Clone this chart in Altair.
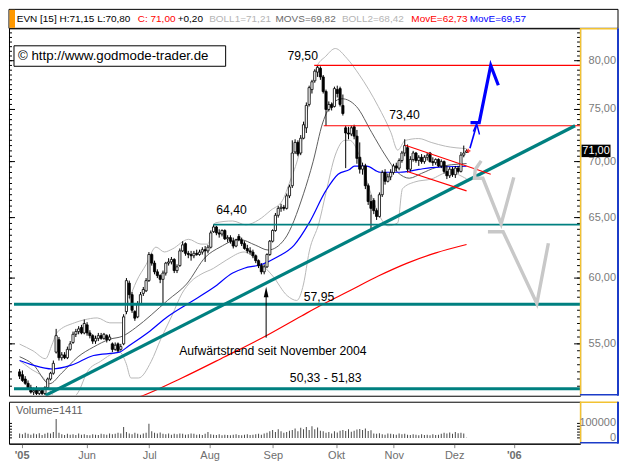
import json
import altair as alt
import pandas as pd

# ---------------- data (trading-day index 0..159) ----------------
open_ = [
    53.0, 52.8, 52.5, 52.2, 51.9, 51.6, 51.8, 51.5, 51.7, 51.5,
    51.9, 52.5, 52.9, 54.4, 55.3, 54.0, 54.2, 54.0, 54.6, 55.1,
    55.7, 55.9, 56.2, 55.8, 56.4, 55.8, 55.6, 55.2, 55.4, 55.6,
    55.4, 55.6, 55.3, 55.0, 54.6, 55.0, 54.6, 55.0, 57.4, 59.6,
    58.7, 57.4, 57.0, 58.0, 58.8, 59.0, 59.8, 61.9, 61.2, 60.5,
    60.2, 59.9, 60.4, 61.2, 61.3, 61.5, 60.6, 61.0, 62.2, 62.8,
    62.0, 61.9, 61.8, 62.0, 61.9, 62.1, 62.3, 62.2, 62.5, 63.8,
    64.2, 63.7, 63.6, 63.9, 63.2, 63.3, 63.0, 62.6, 63.4, 63.1,
    62.8, 62.4, 62.2, 62.1, 61.8, 61.4, 61.0, 60.5, 60.9, 61.9,
    63.0, 63.9, 65.2, 65.8, 65.9, 65.8, 66.9, 67.8, 70.9, 71.8,
    70.8, 72.2, 73.2, 75.5, 77.0, 77.9, 78.8, 79.2, 78.3, 76.8,
    75.0, 75.5, 75.3, 77.0, 77.1, 75.4, 73.2, 72.7, 72.6, 73.3,
    72.4, 70.4, 69.3, 69.6, 67.8, 66.4, 66.5, 65.6, 65.1, 67.0,
    69.0, 68.2, 68.6, 69.0, 69.6, 69.4, 70.1, 70.8, 71.3, 69.3,
    70.2, 70.8, 70.1, 70.4, 70.0, 70.4, 70.8, 70.0, 69.9, 70.2,
    69.6, 70.0, 69.1, 68.7, 69.3, 68.8, 69.4, 69.1, 70.6, 70.85,
]
high = [
    53.2, 53.1, 52.7, 52.4, 52.1, 51.9, 52.0, 51.8, 51.8, 52.0,
    52.6, 53.0, 53.8, 56.1, 55.5, 54.4, 54.4, 54.8, 55.2, 55.9,
    56.1, 56.3, 56.4, 56.8, 56.6, 56.0, 55.7, 55.6, 55.8, 55.8,
    55.8, 55.7, 55.7, 55.1, 55.1, 55.1, 55.0, 57.2, 60.0, 59.8,
    58.9, 57.5, 58.2, 58.9, 59.3, 60.0, 62.1, 62.0, 61.4, 60.7,
    60.3, 60.6, 61.3, 61.6, 61.7, 61.6, 61.1, 62.4, 63.0, 62.9,
    62.2, 62.2, 62.2, 62.3, 62.3, 62.5, 62.6, 62.7, 63.9, 64.4,
    64.3, 64.0, 64.0, 64.0, 63.5, 63.5, 63.3, 63.2, 63.6, 63.3,
    63.0, 62.7, 62.5, 62.3, 61.9, 61.5, 61.2, 61.1, 62.0, 63.1,
    64.0, 65.4, 66.0, 66.2, 66.1, 67.1, 67.9, 72.0, 72.1, 72.0,
    72.5, 73.8, 75.7, 77.4, 78.0, 79.1, 79.5, 79.4, 78.5, 77.0,
    75.8, 75.7, 77.3, 77.4, 77.3, 76.5, 73.4, 73.3, 73.4, 73.5,
    73.0, 71.8, 69.9, 69.8, 68.0, 67.0, 66.7, 65.8, 67.2, 69.2,
    69.3, 68.9, 69.3, 69.8, 69.9, 70.3, 71.0, 72.1, 71.6, 70.5,
    71.0, 70.9, 70.6, 70.7, 70.6, 70.8, 70.9, 70.4, 70.3, 70.3,
    70.2, 70.1, 69.6, 69.5, 69.5, 69.6, 69.6, 70.9, 71.5, 71.15,
]
low = [
    52.5, 52.3, 52.1, 51.8, 51.5, 51.4, 51.4, 51.4, 51.4, 51.4,
    51.8, 52.4, 52.8, 54.3, 53.8, 53.8, 53.9, 53.9, 54.5, 55.0,
    55.5, 55.7, 55.7, 55.7, 55.6, 55.4, 55.0, 55.0, 55.2, 55.3,
    55.3, 55.1, 55.2, 54.4, 54.5, 54.4, 54.5, 54.9, 57.2, 58.4,
    57.3, 56.7, 56.9, 57.9, 58.6, 58.9, 59.7, 61.0, 60.3, 60.0,
    59.6, 58.0, 60.2, 61.0, 61.1, 60.4, 60.4, 60.9, 62.1, 61.8,
    61.6, 61.4, 61.6, 61.8, 61.8, 61.9, 61.3, 62.0, 62.4, 63.7,
    63.5, 63.3, 63.4, 63.1, 62.9, 62.8, 62.4, 62.5, 63.0, 62.6,
    62.3, 62.0, 61.9, 61.6, 61.2, 60.8, 60.3, 60.3, 60.8, 61.8,
    62.9, 63.8, 65.0, 65.5, 65.6, 65.7, 66.7, 67.6, 70.7, 70.5,
    70.6, 72.1, 72.7, 75.3, 76.6, 77.7, 78.3, 78.0, 76.6, 73.4,
    74.8, 74.9, 75.2, 76.2, 75.3, 74.4, 69.4, 72.1, 72.4, 72.1,
    69.8, 68.9, 68.8, 67.5, 66.1, 64.0, 65.3, 64.8, 65.0, 66.8,
    67.9, 68.1, 68.3, 68.8, 69.1, 69.2, 69.9, 70.5, 69.0, 69.1,
    70.0, 69.9, 69.6, 69.8, 69.8, 70.1, 69.9, 69.6, 69.7, 69.5,
    69.4, 68.9, 68.4, 68.5, 68.6, 68.5, 68.9, 69.0, 70.4, 70.8,
]
close = [
    52.7, 52.4, 52.2, 51.9, 51.6, 51.7, 51.5, 51.7, 51.5, 51.9,
    52.5, 52.9, 53.6, 55.6, 54.0, 54.2, 54.0, 54.6, 55.0, 55.7,
    55.9, 56.1, 55.8, 56.5, 55.8, 55.6, 55.2, 55.4, 55.6, 55.4,
    55.7, 55.3, 55.5, 54.6, 54.9, 54.5, 54.8, 57.0, 59.8, 58.7,
    57.5, 56.9, 58.0, 58.7, 59.1, 59.8, 61.9, 61.2, 60.5, 60.2,
    59.9, 60.4, 61.2, 61.3, 61.5, 60.6, 60.9, 62.2, 62.7, 62.0,
    61.9, 61.8, 62.0, 61.9, 62.1, 62.3, 62.2, 62.5, 63.7, 64.2,
    63.7, 63.6, 63.9, 63.2, 63.3, 63.0, 62.6, 63.1, 63.1, 62.8,
    62.4, 62.2, 62.1, 61.8, 61.4, 61.0, 60.5, 60.9, 61.9, 63.0,
    63.9, 65.2, 65.8, 65.9, 65.8, 66.9, 67.7, 70.8, 71.8, 70.7,
    72.2, 73.5, 75.4, 77.2, 77.8, 78.9, 79.3, 78.3, 76.8, 75.0,
    75.5, 75.2, 77.1, 76.6, 75.5, 74.6, 72.7, 72.6, 73.2, 72.4,
    70.3, 69.3, 69.6, 67.8, 66.4, 65.8, 65.6, 65.1, 67.0, 69.0,
    68.2, 68.6, 69.0, 69.6, 69.4, 70.1, 70.8, 71.5, 69.3, 70.2,
    70.8, 70.1, 70.4, 70.0, 70.4, 70.6, 70.0, 69.9, 70.2, 69.6,
    70.0, 69.1, 68.7, 69.3, 68.8, 69.4, 69.1, 70.6, 70.8, 71.0,
]
volume = [
    30000, 25000, 35000, 28000, 22000, 30000, 25000, 32000, 20000, 28000,
    35000, 30000, 40000, 130000, 35000, 25000, 20000, 28000, 22000, 25000,
    20000, 30000, 22000, 25000, 20000, 18000, 25000, 22000, 20000, 28000,
    25000, 22000, 30000, 25000, 28000, 35000, 30000, 75000, 40000, 30000,
    25000, 35000, 28000, 22000, 30000, 35000, 98000, 45000, 35000, 30000,
    38000, 28000, 25000, 30000, 22000, 28000, 25000, 30000, 28000, 22000,
    25000, 30000, 28000, 22000, 25000, 20000, 28000, 40000, 25000, 22000,
    20000, 25000, 18000, 22000, 20000, 18000, 22000, 25000, 20000, 18000,
    22000, 25000, 20000, 22000, 25000, 28000, 22000, 30000, 35000, 45000,
    55000, 40000, 60000, 45000, 35000, 40000, 50000, 55000, 65000, 45000,
    70000, 60000, 75000, 55000, 80000, 60000, 72000, 50000, 45000, 35000,
    40000, 30000, 45000, 38000, 50000, 55000, 48000, 60000, 42000, 50000,
    58000, 62000, 55000, 65000, 48000, 52000, 30000, 28000, 32000, 25000,
    22000, 30000, 28000, 25000, 22000, 30000, 25000, 28000, 22000, 20000,
    25000, 22000, 18000, 25000, 20000, 22000, 18000, 25000, 20000, 22000,
    28000, 35000, 30000, 38000, 28000, 40000, 32000, 36000, 30000, 1411,
]

# indicator lines (index, value)
boll_up_i = [0, 4.8, 9.2, 11.6, 13.3, 19.5, 22.9, 27.6, 32.1, 36.5, 38.9, 41.6, 45, 48.5, 51.5, 54.3,
             60.1, 64.5, 66.9, 69.6, 75.8, 80.5, 85, 89.4, 93.5, 96.2, 99.3, 102, 103.8, 105.5, 108.9,
             112.3, 116.4, 120.8, 127.6, 132.1, 134.5, 137.2, 142, 146.4, 151.5, 159]
boll_up_v = [54.98, 54.49, 53.93, 54.98, 55.83, 56.55, 56.77, 56.92, 56.55, 56.55, 58.25, 59.76, 61.08,
             62.51, 62.11, 62.35, 63.16, 62.76, 62.76, 64.55, 64.71, 64.38, 64.80, 65.64, 66.49, 68.22,
             70.61, 74.32, 76.94, 79.24, 80.47, 81.30, 80.26, 78.54, 75.29, 72.74, 71.07, 71.99, 72.17,
             71.80, 71.44, 71.21]
boll_lo_i = [0, 3.75, 9.2, 11.6, 15, 18.4, 20.8, 24.2, 28.7, 35.5, 37.9, 39.6, 42.3, 46.8, 50.2, 54.3,
             57.7, 61.1, 64.5, 68.9, 73.7, 79.9, 85, 90.1, 95.2, 98.6, 101, 103, 106.5, 108.9, 112.3,
             115.7, 117.4, 120.8, 124.2, 127.6, 131, 134.5, 136.2, 140.6, 146.4, 152.6, 159]
boll_lo_v = [53.79, 53.24, 52.37, 51.44, 50.91, 51.11, 51.57, 53.04, 53.73, 54.42, 53.59, 52.57, 52.57,
             53.73, 55.34, 57.14, 58.77, 59.76, 60.30, 60.77, 61.47, 62.11, 61.32, 60.15, 58.62, 58.25,
             59.53, 62.11, 64.55, 67.08, 70.61, 72.0, 72.0, 70.62, 67.70, 65.38, 64.30, 64.55, 67.53,
             68.14, 68.40, 69.02, 68.42]
movs_i = [0, 4.8, 10.6, 15, 20.8, 26.3, 32.1, 36.5, 41.3, 46.8, 52.6, 59.4, 66.2, 71.3, 78.2, 84, 88.4,
          94.2, 101, 104.4, 107.8, 111.3, 114.7, 119.8, 125.3, 130, 134.5, 138.6, 143, 148.1, 159]
movs_v = [54.07, 53.52, 52.17, 52.92, 54.07, 54.77, 55.34, 55.55, 56.19, 57.14, 58.25, 59.53, 61.71,
          62.51, 63.15, 62.66, 62.27, 63.15, 67.08, 69.99, 73.67, 75.59, 76.07, 75.30, 72.73, 70.62,
          69.01, 68.48, 68.92, 69.45, 69.82]
ema_blue_i = [0, 4.8, 11.6, 18.4, 26.3, 35.5, 38.9, 45.7, 52.6, 60, 69, 75.8, 79.9, 86, 91.8, 97.6, 103,
              108.9, 113.3, 117.4, 119.1, 123.5, 128.3, 135.2, 142, 146.4, 159]
ema_blue_v = [53.8, 53.47, 53.2, 53.47, 54.16, 54.4, 54.86, 55.83, 57.01, 58.02, 59.25, 60.4, 60.79,
              61.08, 61.71, 62.66, 64.55, 67.34, 68.84, 69.28, 69.58, 69.58, 69.02, 69.02, 69.28, 69.45,
              69.57]
ema_red_i = [40, 44, 57.7, 73, 86.7, 100.3, 107.2, 117.4, 127.6, 137.9, 148.1, 159]
ema_red_v = [51.1, 51.37, 52.57, 54.07, 55.48, 57.07, 57.88, 59.0, 60.16, 61.2, 62.04, 62.73]

# drawn analysis
level_values = [79.50, 73.40, 64.40, 57.95, 51.83]
level_start = [104.8, 108.2, 68.9, -2.0, -2.0]
trend_i = [9.2, 197.6]
trend_v = [51.37, 73.40]
chan_up_i = [137.2, 167.6]
chan_up_v = [71.53, 68.84]
chan_lo_i = [137.9, 159.0]
chan_lo_v = [69.08, 67.34]
bull_i = [160.4, 163.5, 167.6, 170.3]
bull_v = [73.7, 73.7, 79.5, 77.44]
bull_thin_i = [160.2, 162.6]
bull_thin_v = [71.25, 73.5]
bull_head_i = [161.4, 162.6, 163.6]
bull_head_v = [72.84, 73.6, 72.56]
bear1_i = [164.2, 162.1, 161.8, 164.8, 171.3, 175.8]
bear1_v = [70.07, 69.28, 68.47, 68.47, 64.46, 68.55]
bear2_i = [166.6, 172.0, 184.0, 188.1]
bear2_v = [63.80, 63.80, 58.02, 62.83]

ann_text = ["79,50", "73,40", "64,40", "57,95", "Aufwärtstrend seit November 2004", "50,33 - 51,83"]
ann_i = [100.7, 136.9, 75.4, 106.5, 90.1, 108.9]
ann_v = [80.55, 74.5, 65.64, 58.55, 54.49, 52.57]
arrow_i = [87.7, 87.7]
arrow_v = [55.45, 58.9]

month_labels = ["'05", "Jun", "Jul", "Aug", "Sep", "Okt", "Nov", "Dez", "'06"]
month_pos = [0.7, 23.8, 46.1, 67.6, 90.1, 112.6, 133.1, 154.6, 175.8]
price_labels = [55, 60, 65, 70, 75, 80]
minor_ticks = [k / 2 for k in range(104, 167)]
vol_labels = [0, 100000]
vol_ticks = [0, 20000, 40000, 60000, 80000, 100000]

header_texts = ["EVN [15] H:71,15 L:70,80", "C: 71,00", "+0,20", "BOLL1=71,21", "MOVS=69,82",
                "BOLL2=68,42", "MovE=62,73", "MovE=69,57"]

# ---------------- layout / style ----------------
W, H, VH = 572, 368, 42
XMIN, XMAX = -2.0, 197.6
FONT = "Liberation Sans"
TEAL, RED, BLUE = "#008080", "#ff0000", "#0000ff"
YELLOW, FBLUE = "#f2c232", "#1c3cc8"
LABEL_GRAY = "#7a7a7a"
header_colors = ["black", RED, "black", "#b4b4b4", "#6a6a6a", "#b4b4b4", RED, BLUE]
header_x = [7.8, 129, 169, 200.5, 267, 333.5, 403, 461.5]

xs = alt.Scale(domain=[XMIN, XMAX], nice=False, zero=False)
ys = alt.Scale(type="log", domain=[51.35, 83.5], nice=False)


def X(f="i"):
    return alt.X(f"{f}:Q", scale=xs, axis=None)


def Y(f="v"):
    return alt.Y(f"{f}:Q", scale=ys, axis=None)


def one():
    return alt.Chart(pd.DataFrame({"a": [0]}))


def line(ii, vv, color, width, interp="linear"):
    df = pd.DataFrame({"i": ii, "v": vv, "o": list(range(len(ii)))})
    return alt.Chart(df).mark_line(color=color, strokeWidth=width, clip=True,
                                   interpolate=interp).encode(x=X(), y=Y(), order="o:Q")


n = len(close)
cdf = pd.DataFrame({"i": list(range(n)), "o": open_, "h": high, "l": low, "c": close})
cdf["up"] = cdf["c"] >= cdf["o"]

wick = alt.Chart(cdf).mark_rule(color="black", strokeWidth=1).encode(
    x=X(), y=Y("l"), y2="h:Q")
body = alt.Chart(cdf).mark_bar(size=2.2, stroke="black", strokeWidth=0.8).encode(
    x=X(), y=Y("o"), y2="c:Q",
    fill=alt.condition("datum.up", alt.value("white"), alt.value("black")))

bands = [line(boll_up_i, boll_up_v, "#b8b8b8", 1, "monotone"),
         line(boll_lo_i, boll_lo_v, "#b8b8b8", 1, "monotone"),
         line(movs_i, movs_v, "#5e5e5e", 1, "monotone"),
         line(ema_red_i, ema_red_v, RED, 1.2, "monotone"),
         line(ema_blue_i, ema_blue_v, BLUE, 1.2, "monotone")]

lv = pd.DataFrame({"v": level_values, "x0": level_start})
lv_red = alt.Chart(lv.iloc[0:2]).mark_rule(color=RED, strokeWidth=1.2).encode(
    x=X("x0"), x2=alt.value(W), y=Y())
lv_teal = alt.Chart(lv.iloc[2:3]).mark_rule(color=TEAL, strokeWidth=1.6).encode(
    x=X("x0"), x2=alt.value(W), y=Y())
lv_thick = alt.Chart(lv.iloc[3:5]).mark_rule(color=TEAL, strokeWidth=3).encode(
    x=X("x0"), x2=alt.value(W), y=Y())

trend = line(trend_i, trend_v, TEAL, 3.2)
chan = [line(chan_up_i, chan_up_v, RED, 1.1), line(chan_lo_i, chan_lo_v, RED, 1.1)]
bull = [line(bull_i, bull_v, BLUE, 3.2), line(bull_thin_i, bull_thin_v, BLUE, 1.6),
        line(bull_head_i, bull_head_v, BLUE, 1.4)]
bear = [line(bear1_i, bear1_v, "#c8c8c8", 3.4), line(bear2_i, bear2_v, "#c8c8c8", 3.4)]

last_mark = alt.Chart(pd.DataFrame({"i": [n - 0.4], "v": [close[-1]]})).mark_point(
    shape="cross", size=18, filled=True, color=RED).encode(x=X(), y=Y())

ann = alt.Chart(pd.DataFrame({"i": ann_i, "v": ann_v, "t": ann_text})).mark_text(
    font=FONT, fontSize=12.2, color="black").encode(x=X(), y=Y(), text="t:N")
arrow = line(arrow_i, arrow_v, "black", 1)
arrow_head = alt.Chart(pd.DataFrame({"i": [arrow_i[1]], "v": [arrow_v[1]]})).mark_point(
    shape="M0,-1L0.45,1L-0.45,1Z", size=110, filled=True, color="black", opacity=1).encode(
    x=X(), y=Y())

# price-scale ticks on both inner edges and price labels at the right
tk_min = pd.DataFrame({"v": minor_ticks})
tk_maj = pd.DataFrame({"v": price_labels,
                       "t": [f"{p:.2f}".replace(".", ",") for p in price_labels]})
ticks = [
    alt.Chart(tk_min).mark_rule(color="black").encode(x=alt.value(W - 3), x2=alt.value(W), y=Y()),
    alt.Chart(tk_maj).mark_rule(color="black").encode(x=alt.value(W - 6), x2=alt.value(W), y=Y()),
    alt.Chart(tk_min).mark_rule(color="black").encode(x=alt.value(0), x2=alt.value(3), y=Y()),
    alt.Chart(tk_maj).mark_rule(color="black").encode(x=alt.value(0), x2=alt.value(6), y=Y()),
]
price_txt = alt.Chart(tk_maj).mark_text(font=FONT, fontSize=11, color=LABEL_GRAY, align="right").encode(
    x=alt.value(W + 36), y=Y(), text="t:N")

last_box = alt.Chart(pd.DataFrame({"v": [close[-1]]})).mark_point(
    shape="M-1,-0.43L1,-0.43L1,0.43L-1,0.43Z", size=841, filled=True, color="black",
    opacity=1).encode(x=alt.value(W + 16), y=Y())
last_txt = alt.Chart(pd.DataFrame({"v": [close[-1]],
                                   "t": [f"{close[-1]:.2f}".replace(".", ",")]})).mark_text(
    font=FONT, fontSize=11, color="white").encode(x=alt.value(W + 16), y=Y(), text="t:N")

# copyright box
copy_box = one().mark_rect(fill="white", stroke="black", strokeWidth=1).encode(
    x=alt.value(5), x2=alt.value(217), y=alt.value(17.5), y2=alt.value(38))
copy_txt = one().mark_text(font=FONT, fontSize=13.3, align="left", color="black").encode(
    x=alt.value(9), y=alt.value(28), text=alt.value("©  http://www.godmode-trader.de"))

# header line
head_box = one().mark_rect(fill="white", stroke="black", strokeWidth=1).encode(
    x=alt.value(0), x2=alt.value(W + 38), y=alt.value(-19), y2=alt.value(0))
head_orange = one().mark_rect(fill="#ff9900").encode(
    x=alt.value(0.5), x2=alt.value(6), y=alt.value(-18.5), y2=alt.value(-0.5))
head_txt = [one().mark_text(font=FONT, fontSize=10, align="left", color=c).encode(
    x=alt.value(px), y=alt.value(-9.5), text=alt.value(t))
    for t, c, px in zip(header_texts, header_colors, header_x)]


def side_frame(h):
    return [
        one().mark_rule(color=YELLOW, strokeWidth=1.5).encode(
            x=alt.value(W), x2=alt.value(W + 38), y=alt.value(0.5)),
        one().mark_rule(color=YELLOW, strokeWidth=1.5).encode(
            x=alt.value(W + 0.5), y=alt.value(0), y2=alt.value(h)),
        one().mark_rule(color=FBLUE, strokeWidth=2).encode(
            x=alt.value(W + 38), y=alt.value(0), y2=alt.value(h)),
        one().mark_rule(color=FBLUE, strokeWidth=1.5).encode(
            x=alt.value(W), x2=alt.value(W + 38), y=alt.value(h - 1)),
    ]


main = alt.layer(
    head_box, head_orange, *head_txt,
    *bands, wick, body, *ticks,
    lv_red, lv_teal, lv_thick, trend, *chan, *bear, *bull, last_mark,
    ann, arrow, arrow_head, copy_box, copy_txt,
    *side_frame(H), price_txt, last_box, last_txt,
).properties(width=W, height=H)

# ---------------- volume panel ----------------
label_expr = " : ".join(f"datum.value == {p} ? {json.dumps(l)}" for p, l in zip(month_pos, month_labels)) + " : ''"
xaxis = alt.Axis(values=month_pos, labelExpr=label_expr, grid=False, title=None,
                 labelColor="#6e6e6e", labelFontSize=11, labelFont=FONT, tickColor="#8a8a8a",
                 tickSize=4, domainColor="black", labelPadding=2,
                 labelFontWeight={"condition": {"test": "datum.value < 1 || datum.value > 170",
                                                "value": "bold"}, "value": "normal"})
vs = alt.Scale(domain=[-40000, 250000], nice=False, zero=False)
vdf = pd.DataFrame({"i": list(range(n)), "vol": volume})
vbars = alt.Chart(vdf).mark_bar(size=1, color="#4a4a4a").encode(
    x=alt.X("i:Q", scale=xs, axis=xaxis), y=alt.Y("vol:Q", scale=vs, axis=None), y2=alt.datum(0))
vt_df = pd.DataFrame({"v": vol_ticks})
vticks = [
    alt.Chart(vt_df).mark_rule(color="black").encode(
        x=alt.value(0), x2=alt.value(3), y=alt.Y("v:Q", scale=vs, axis=None)),
    alt.Chart(vt_df).mark_rule(color="black").encode(
        x=alt.value(W - 3), x2=alt.value(W), y=alt.Y("v:Q", scale=vs, axis=None)),
]
vl_df = pd.DataFrame({"v": vol_labels, "t": [str(v) for v in vol_labels]})
vlabels = alt.Chart(vl_df).mark_text(font=FONT, fontSize=11, color=LABEL_GRAY, align="right").encode(
    x=alt.value(W + 36), y=alt.Y("v:Q", scale=vs, axis=None), text="t:N")
vtxt = one().mark_text(font=FONT, fontSize=11, align="left", color="#606060").encode(
    x=alt.value(7), y=alt.value(9), text=alt.value(f"Volume={volume[-1]}"))
vol = alt.layer(vbars, *vticks, vtxt, *side_frame(VH), vlabels).properties(width=W, height=VH)

chart = alt.vconcat(main, vol, spacing=2).properties(padding=0).configure_view(
    stroke="black", strokeWidth=1)

chart.save("out.html", embed_options={"renderer": "svg", "actions": False})
